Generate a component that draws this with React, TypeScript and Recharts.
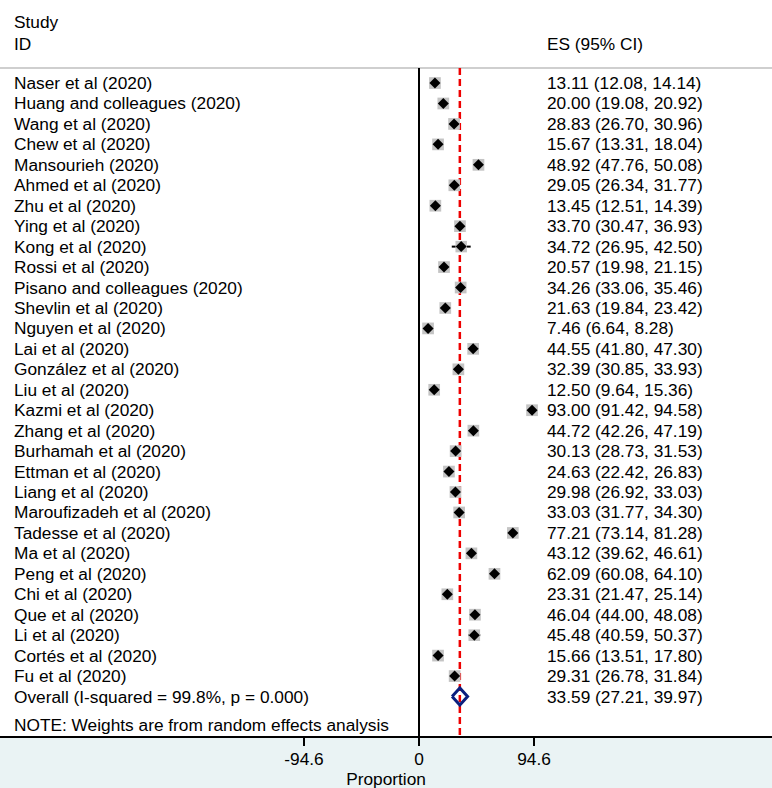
import React from "react";
import {
  ComposedChart,
  Scatter,
  XAxis,
  YAxis,
  ErrorBar,
  ReferenceLine,
} from "recharts";

const studies = [
  "Naser et al (2020)",
  "Huang and colleagues (2020)",
  "Wang et al (2020)",
  "Chew et al (2020)",
  "Mansourieh (2020)",
  "Ahmed et al (2020)",
  "Zhu et al (2020)",
  "Ying et al (2020)",
  "Kong et al (2020)",
  "Rossi et al (2020)",
  "Pisano and colleagues (2020)",
  "Shevlin et al (2020)",
  "Nguyen et al (2020)",
  "Lai et al (2020)",
  "González et al (2020)",
  "Liu et al (2020)",
  "Kazmi et al (2020)",
  "Zhang et al (2020)",
  "Burhamah et al  (2020)",
  "Ettman et al (2020)",
  "Liang et al  (2020)",
  "Maroufizadeh et al  (2020)",
  "Tadesse et al (2020)",
  "Ma et al (2020)",
  "Peng et al  (2020)",
  "Chi et al  (2020)",
  "Que et al  (2020)",
  "Li et al  (2020)",
  "Cortés et al (2020)",
  "Fu et al  (2020)",
];
const es = [
  13.11, 20.0, 28.83, 15.67, 48.92, 29.05, 13.45, 33.7, 34.72, 20.57, 34.26,
  21.63, 7.46, 44.55, 32.39, 12.5, 93.0, 44.72, 30.13, 24.63, 29.98, 33.03,
  77.21, 43.12, 62.09, 23.31, 46.04, 45.48, 15.66, 29.31,
];
const lo = [
  12.08, 19.08, 26.7, 13.31, 47.76, 26.34, 12.51, 30.47, 26.95, 19.98, 33.06,
  19.84, 6.64, 41.8, 30.85, 9.64, 91.42, 42.26, 28.73, 22.42, 26.92, 31.77,
  73.14, 39.62, 60.08, 21.47, 44.0, 40.59, 13.51, 26.78,
];
const hi = [
  14.14, 20.92, 30.96, 18.04, 50.08, 31.77, 14.39, 36.93, 42.5, 21.15, 35.46,
  23.42, 8.28, 47.3, 33.93, 15.36, 94.58, 47.19, 31.53, 26.83, 33.03, 34.3,
  81.28, 46.61, 64.1, 25.14, 48.08, 50.37, 17.8, 31.84,
];
const weights = [
  3.35, 3.35, 3.34, 3.34, 3.35, 3.33, 3.35, 3.33, 3.2, 3.35, 3.35, 3.34, 3.35,
  3.33, 3.34, 3.32, 3.34, 3.33, 3.34, 3.34, 3.33, 3.34, 3.31, 3.32, 3.34, 3.34,
  3.34, 3.29, 3.34, 3.33,
];
const overall = { es: 33.59, lo: 27.21, hi: 39.97 };
const overallLabel = "Overall  (I-squared = 99.8%, p = 0.000)";
const note = "NOTE: Weights are from random effects analysis";
const xTicks = [-94.6, 0, 94.6];

const fmt = (v: number) => v.toFixed(2);

const rows = studies.map((name, i) => ({
  row: i,
  name,
  es: es[i],
  w: weights[i],
  err: [es[i] - lo[i], hi[i] - es[i]],
  text: `${fmt(es[i])} (${fmt(lo[i])}, ${fmt(hi[i])})`,
}));

const overallRow = studies.length;
const diamond = [
  { es: overall.lo, row: overallRow },
  { es: overall.es, row: overallRow - 0.42 },
  { es: overall.hi, row: overallRow },
  { es: overall.es, row: overallRow + 0.42 },
  { es: overall.lo, row: overallRow },
];
const textRows = [
  ...rows.map((r) => ({ row: r.row, es: 0, left: r.name, right: r.text })),
  {
    row: overallRow,
    es: 0,
    left: overallLabel,
    right: `${fmt(overall.es)} (${fmt(overall.lo)}, ${fmt(overall.hi)})`,
  },
];

const W = 772;
const H = 788;
const FS = 17.3;
const font = "'Liberation Sans', Arial, sans-serif";

const Square = (props: any) => {
  const s = 6.4 * Math.sqrt(props.payload.w);
  return (
    <rect
      x={props.cx - s / 2}
      y={props.cy - s / 2}
      width={s}
      height={s}
      fill="#c4c4c4"
    />
  );
};

const Point = (props: any) => {
  const r = 5.5;
  const { cx, cy } = props;
  return (
    <polygon
      points={`${cx - r},${cy} ${cx},${cy - r} ${cx + r},${cy} ${cx},${cy + r}`}
      fill="#000"
    />
  );
};

const RowText = (props: any) => (
  <g>
    <text x={14} y={props.cy} dominantBaseline="central" fontSize={FS} fill="#000">
      {props.payload.left}
    </text>
    <text x={547} y={props.cy} dominantBaseline="central" fontSize={FS} fill="#000">
      {props.payload.right}
    </text>
  </g>
);

const Empty = () => <g />;

export default function App() {
  return (
    <div
      style={{
        position: "absolute",
        top: 0,
        left: 0,
        width: W,
        height: H,
        overflow: "hidden",
        fontFamily: font,
        background: "linear-gradient(to bottom, #fff 0, #fff 737px, #eaf3f4 737px)",
      }}
    >
      <ComposedChart
        width={W}
        height={H}
        margin={{ top: 0, right: 0, bottom: 0, left: 0 }}
        style={{ fontFamily: font }}
      >
        <XAxis
          type="number"
          dataKey="es"
          domain={[-344.7, 290.4]}
          ticks={xTicks}
          tickFormatter={(v: number) => (v === 0 ? "0" : v.toFixed(1))}
          allowDataOverflow
          height={51}
          tickSize={9}
          tickMargin={7}
          tick={{ fontSize: FS, fill: "#000" }}
          axisLine={{ stroke: "#000", strokeWidth: 2 }}
          tickLine={{ stroke: "#000", strokeWidth: 2 }}
        />
        <YAxis type="number" dataKey="row" domain={[-4.06, 31.98]} reversed hide allowDataOverflow />
        <ReferenceLine y={-0.735} stroke="#cfcfcf" strokeWidth={2} />
        <ReferenceLine
          segment={[
            { x: 0, y: -0.735 },
            { x: 0, y: 31.98 },
          ]}
          stroke="#000"
          strokeWidth={2}
        />
        <Scatter data={rows} dataKey="es" shape={Square} isAnimationActive={false} />
        <Scatter data={rows} dataKey="es" shape={Point} isAnimationActive={false}>
          <ErrorBar dataKey="err" direction="x" width={0} stroke="#000" strokeWidth={2} />
        </Scatter>
        <Scatter
          data={diamond}
          dataKey="es"
          shape={Empty}
          line={{ stroke: "#0b1f7e", strokeWidth: 3 }}
          isAnimationActive={false}
        />
        <ReferenceLine
          segment={[
            { x: overall.es, y: -0.735 },
            { x: overall.es, y: 31.98 },
          ]}
          stroke="#ee0000"
          strokeWidth={2.5}
          strokeDasharray="7 4"
        />
        <Scatter data={textRows} dataKey="es" shape={RowText} isAnimationActive={false} />
        <text x={14} y={22} dominantBaseline="central" fontSize={FS} fill="#000">
          Study
        </text>
        <text x={14} y={44} dominantBaseline="central" fontSize={FS} fill="#000">
          ID
        </text>
        <text x={547} y={44} dominantBaseline="central" fontSize={FS} fill="#000">
          ES (95% CI)
        </text>
        <text x={14} y={725} dominantBaseline="central" fontSize={FS} fill="#000">
          {note}
        </text>
        <text x={386} y={779} dominantBaseline="central" textAnchor="middle" fontSize={FS} fill="#000">
          Proportion
        </text>
      </ComposedChart>
    </div>
  );
}
